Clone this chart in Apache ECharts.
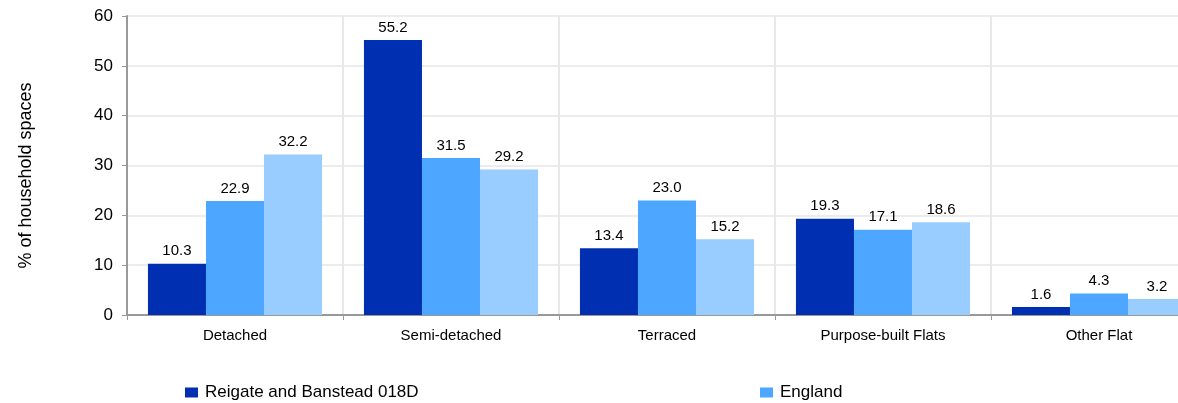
<!DOCTYPE html>
<html>
<head>
<meta charset="utf-8">
<script src="https://cdn.jsdelivr.net/npm/echarts@6/dist/echarts.min.js"></script>
<style>
html, body { margin: 0; padding: 0; background: #fff; overflow: hidden; }
#chart { width: 1220px; height: 403px; }
</style>
</head>
<body>
<div id="chart"></div>
<script>
var categories = ['Detached', 'Semi-detached', 'Terraced', 'Purpose-built Flats', 'Other Flat'];
var localArea = [10.3, 55.2, 13.4, 19.3, 1.6];
var england = [22.9, 31.5, 23.0, 17.1, 4.3];
var thirdSeries = [32.2, 29.2, 15.2, 18.6, 3.2];
var yTicks = [0, 10, 20, 30, 40, 50, 60];

var font = 'Liberation Sans, Arial, sans-serif';
// chart is a bit wider than the window: the last category runs off the right edge
var chart = echarts.init(document.getElementById('chart'));

var labelOpt = {
    show: true,
    position: 'top',
    distance: 5,
    color: '#000',
    fontFamily: font,
    fontSize: 15,
    formatter: function (p) { return p.value.toFixed(1); }
};

option = {
    animation: false,
    textStyle: { fontFamily: font },
    grid: { left: 127, top: 16, right: 13, height: 299 },
    legend: [{
        left: 185, top: 384, padding: 0,
        itemWidth: 13, itemHeight: 10, itemGap: 10,
        icon: 'rect',
        textStyle: { fontSize: 17, color: '#000', fontFamily: font, padding: [0, 0, 0, 2] },
        data: ['Reigate and Banstead 018D']
    }, {
        left: 760, top: 384, padding: 0,
        itemWidth: 13, itemHeight: 10,
        icon: 'rect',
        textStyle: { fontSize: 17, color: '#000', fontFamily: font, padding: [0, 0, 0, 2] },
        data: ['England']
    }],
    xAxis: {
        type: 'category',
        data: categories,
        axisLine: { lineStyle: { color: '#999', width: 2 } },
        axisTick: { show: true, length: 5, lineStyle: { color: '#999', width: 1 } },
        axisLabel: { color: '#000', fontSize: 15, margin: 13, fontFamily: font },
        splitLine: { show: true, lineStyle: { color: '#e8e8e8', width: 2 } }
    },
    yAxis: {
        type: 'value',
        min: yTicks[0],
        max: yTicks[yTicks.length - 1],
        interval: 10,
        name: '% of household spaces',
        nameLocation: 'middle',
        nameRotate: 90,
        nameGap: 92,
        nameTextStyle: { color: '#000', fontSize: 18, fontFamily: font, padding: [0, 20, 0, 0] },
        axisLine: { show: true, lineStyle: { color: '#999', width: 2 } },
        axisTick: { show: true, length: 5, lineStyle: { color: '#999' } },
        axisLabel: { color: '#000', fontSize: 17, margin: 14, fontFamily: font },
        splitLine: { show: true, lineStyle: { color: '#ececec', width: 2 } }
    },
    series: [{
        name: 'Reigate and Banstead 018D',
        type: 'bar',
        data: localArea,
        barGap: '0%',
        barCategoryGap: '19.4%',
        itemStyle: { color: '#002fb1' },
        label: labelOpt
    }, {
        name: 'England',
        type: 'bar',
        data: england,
        itemStyle: { color: '#4da6ff' },
        label: labelOpt
    }, {
        name: 'Comparison',
        type: 'bar',
        data: thirdSeries,
        itemStyle: { color: '#99ccff' },
        label: labelOpt
    }]
};
chart.setOption(option);
</script>
</body>
</html>
